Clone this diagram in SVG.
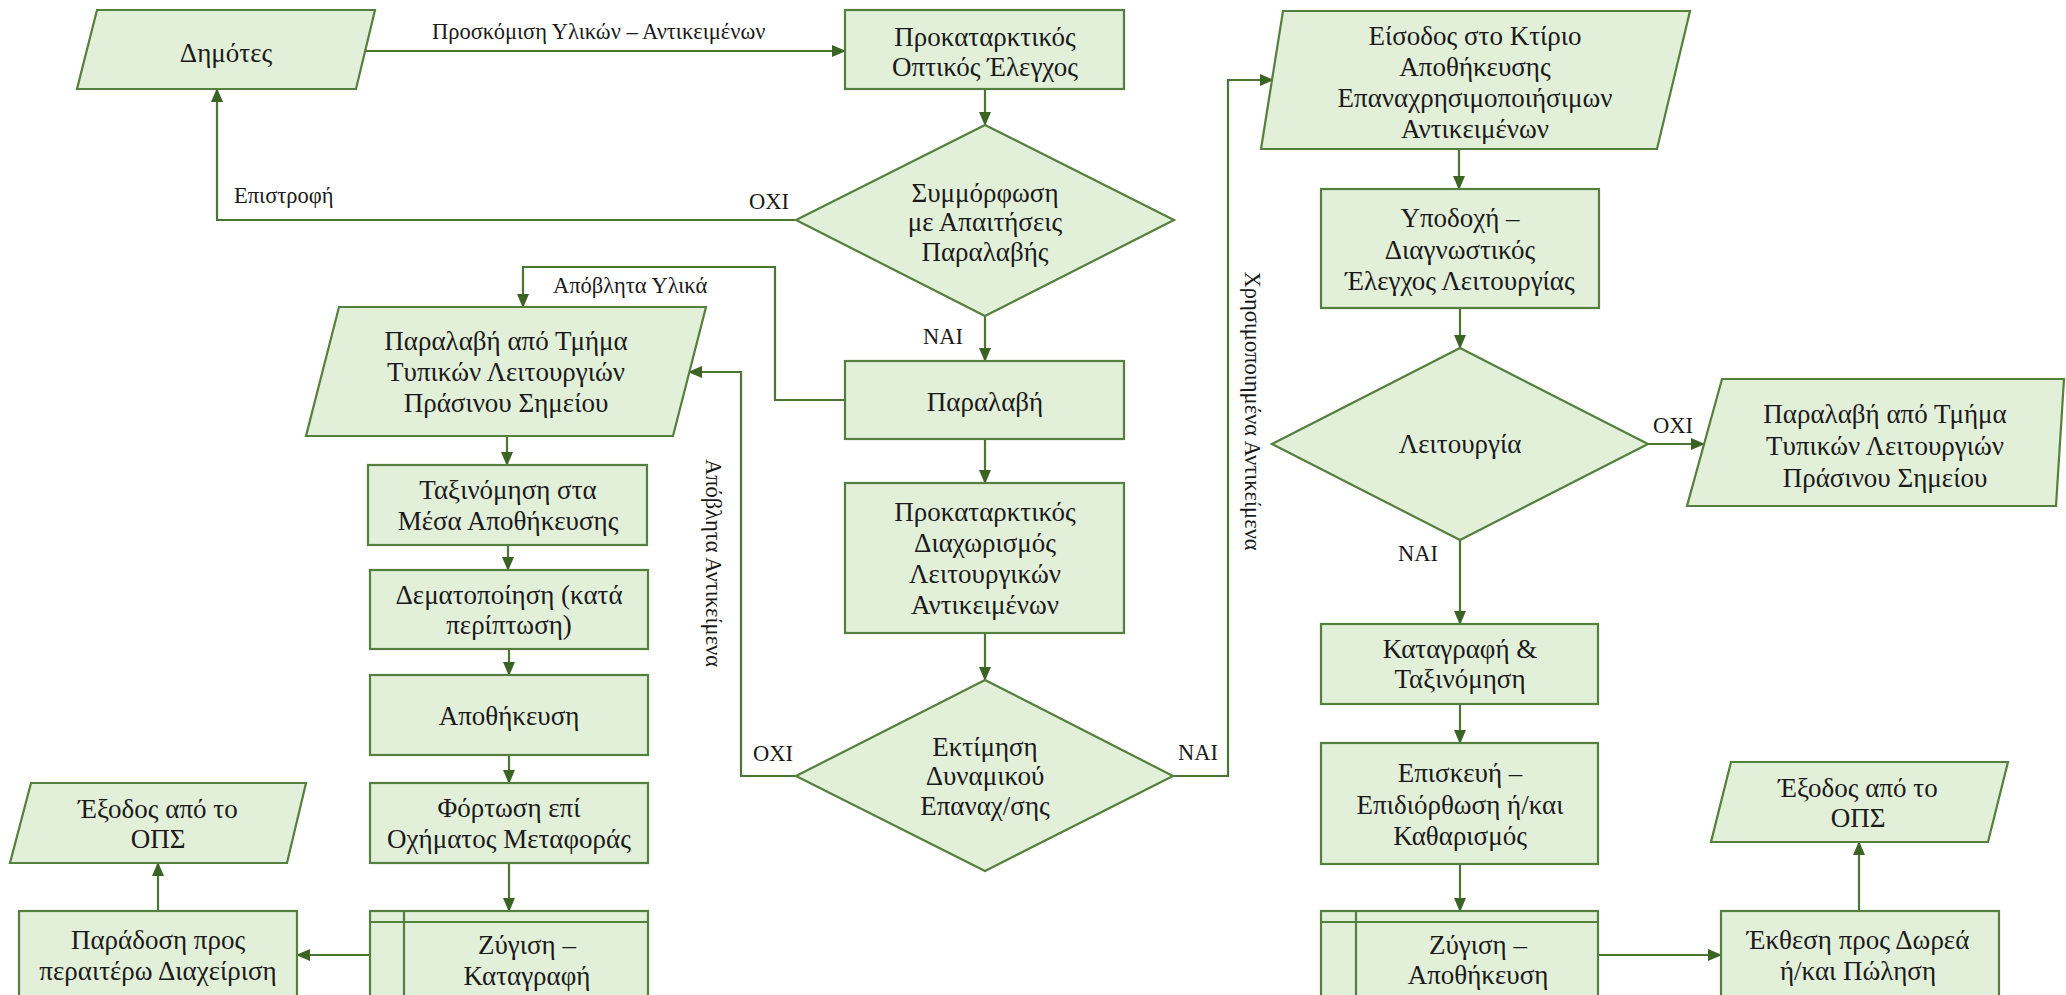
<svg xmlns="http://www.w3.org/2000/svg" width="2066" height="995" viewBox="0 0 2066 995">
<defs>
<marker id="ah" markerUnits="userSpaceOnUse" markerWidth="14" markerHeight="12" refX="13" refY="6" orient="auto">
<path d="M0,0 L14,6 L0,12 z" fill="#3b6324"/>
</marker>
<style>
.s{fill:#e2efd9;stroke:#557f3c;stroke-width:2.2}
.l{fill:none;stroke:#557f3c;stroke-width:2.2}
.c{fill:none;stroke:#4a7533;stroke-width:2.2;marker-end:url(#ah)}
.t{font-family:"Liberation Serif","Times New Roman",serif;font-size:27px;fill:#1a1a1a;text-anchor:middle;dominant-baseline:central}
.lb{font-family:"Liberation Serif","Times New Roman",serif;font-size:22.5px;fill:#1a1a1a;dominant-baseline:central}
.m{text-anchor:middle}
</style>
</defs>
<rect width="2066" height="995" fill="#ffffff"/>

<g id="connectors">
<path class="c" d="M366,51 H845"/>
<path class="c" d="M985,89 V125"/>
<path class="c" d="M796,220 H217 V89"/>
<path class="c" d="M985,316 V361"/>
<path class="c" d="M845,400 H775 V267 H523 V307"/>
<path class="c" d="M985,439 V483"/>
<path class="c" d="M985,633 V680"/>
<path class="c" d="M796,776 H741 V372 H689"/>
<path class="c" d="M1173,776 H1228 V80 H1273"/>
<path class="c" d="M507,436 V465"/>
<path class="c" d="M508,545 V570"/>
<path class="c" d="M509,649 V675"/>
<path class="c" d="M509,755 V783"/>
<path class="c" d="M509,863 V911"/>
<path class="c" d="M370,955 H297"/>
<path class="c" d="M158,911 V863"/>
<path class="c" d="M1459,149 V189"/>
<path class="c" d="M1460,308 V348"/>
<path class="c" d="M1648,444 H1704"/>
<path class="c" d="M1460,540 V624"/>
<path class="c" d="M1460,704 V743"/>
<path class="c" d="M1460,864 V911"/>
<path class="c" d="M1598,955 H1721"/>
<path class="c" d="M1859,911 V842"/>
<text class="lb" x="432" y="31">Προσκόμιση Υλικών – Αντικειμένων</text>
<text class="lb" x="234" y="195">Επιστροφή</text>
<text class="lb m" x="769" y="201">ΟΧΙ</text>
<text class="lb" x="553" y="285">Απόβλητα Υλικά</text>
<text class="lb m" x="943" y="336">ΝΑΙ</text>
<text class="lb m" x="773" y="753">ΟΧΙ</text>
<text class="lb m" x="1198" y="752">ΝΑΙ</text>
<text class="lb m" x="1673" y="425">ΟΧΙ</text>
<text class="lb m" x="1418" y="553">ΝΑΙ</text>
<text class="lb m" transform="translate(713,563) rotate(90)" x="0" y="0">Απόβλητα Αντικείμενα</text>
<text class="lb m" transform="translate(1252,411) rotate(90)" x="0" y="0">Χρησιμοποιημένα Αντικείμενα</text>
</g>

<g id="n-dimotes">
<polygon class="s" points="97,10 375,10 356,89 77,89"/>
<text class="t" x="226" y="53">Δημότες</text>
</g>

<g id="n-optikos">
<rect class="s" x="845" y="10" width="279" height="79"/>
<text class="t" x="985" y="37">Προκαταρκτικός</text>
<text class="t" x="985" y="67">Οπτικός Έλεγχος</text>
</g>

<g id="n-symmorfosi">
<polygon class="s" points="985,125 1174,220 985,316 796,220"/>
<text class="t" x="985" y="193">Συμμόρφωση</text>
<text class="t" x="985" y="222">με Απαιτήσεις</text>
<text class="t" x="985" y="252">Παραλαβής</text>
</g>

<g id="n-paralavi">
<rect class="s" x="845" y="361" width="279" height="78"/>
<text class="t" x="985" y="402">Παραλαβή</text>
</g>

<g id="n-diaxorismos">
<rect class="s" x="845" y="483" width="279" height="150"/>
<text class="t" x="985" y="512">Προκαταρκτικός</text>
<text class="t" x="985" y="543">Διαχωρισμός</text>
<text class="t" x="985" y="574">Λειτουργικών</text>
<text class="t" x="985" y="605">Αντικειμένων</text>
</g>

<g id="n-ektimisi">
<polygon class="s" points="985,680 1173,776 985,871 796,776"/>
<text class="t" x="985" y="747">Εκτίμηση</text>
<text class="t" x="985" y="776">Δυναμικού</text>
<text class="t" x="985" y="806">Επαναχ/σης</text>
</g>

<g id="n-paralavi-tmima-left">
<polygon class="s" points="339,307 706,307 673,436 306,436"/>
<text class="t" x="506" y="341">Παραλαβή από Τμήμα</text>
<text class="t" x="506" y="372">Τυπικών Λειτουργιών</text>
<text class="t" x="506" y="403">Πράσινου Σημείου</text>
</g>

<g id="n-taxinomisi">
<rect class="s" x="368" y="465" width="279" height="80"/>
<text class="t" x="508" y="490">Ταξινόμηση στα</text>
<text class="t" x="508" y="521">Μέσα Αποθήκευσης</text>
</g>

<g id="n-dematopoiisi">
<rect class="s" x="370" y="570" width="278" height="79"/>
<text class="t" x="509" y="595">Δεματοποίηση (κατά</text>
<text class="t" x="509" y="625">περίπτωση)</text>
</g>

<g id="n-apothikeusi">
<rect class="s" x="370" y="675" width="278" height="80"/>
<text class="t" x="509" y="716">Αποθήκευση</text>
</g>

<g id="n-fortosi">
<rect class="s" x="370" y="783" width="278" height="80"/>
<text class="t" x="509" y="808">Φόρτωση επί</text>
<text class="t" x="509" y="839">Οχήματος Μεταφοράς</text>
</g>

<g id="n-zygisi-katagrafi">
<rect class="s" x="370" y="911" width="278" height="100"/>
<path class="l" d="M370,922 H648 M404,911 V1000"/>
<text class="t" x="527" y="945">Ζύγιση –</text>
<text class="t" x="527" y="976">Καταγραφή</text>
</g>

<g id="n-paradosi">
<rect class="s" x="19" y="911" width="278" height="100"/>
<text class="t" x="158" y="940">Παράδοση προς</text>
<text class="t" x="158" y="971">περαιτέρω Διαχείριση</text>
</g>

<g id="n-exodos-left">
<polygon class="s" points="31,783 306,783 287,863 10,863"/>
<text class="t" x="158" y="809">Έξοδος από το</text>
<text class="t" x="158" y="839">ΟΠΣ</text>
</g>

<g id="n-eisodos">
<polygon class="s" points="1283,11 1690,11 1657,149 1261,149"/>
<text class="t" x="1475" y="36">Είσοδος στο Κτίριο</text>
<text class="t" x="1475" y="67">Αποθήκευσης</text>
<text class="t" x="1475" y="98">Επαναχρησιμοποιήσιμων</text>
<text class="t" x="1475" y="129">Αντικειμένων</text>
</g>

<g id="n-ypodoxi">
<rect class="s" x="1321" y="189" width="278" height="119"/>
<text class="t" x="1460" y="218">Υποδοχή –</text>
<text class="t" x="1460" y="250">Διαγνωστικός</text>
<text class="t" x="1460" y="281">Έλεγχος Λειτουργίας</text>
</g>

<g id="n-leitourgia">
<polygon class="s" points="1460,348 1648,444 1460,540 1272,444"/>
<text class="t" x="1460" y="444">Λειτουργία</text>
</g>

<g id="n-paralavi-tmima-right">
<polygon class="s" points="1722,379 2064,379 2056,506 1687,506"/>
<text class="t" x="1885" y="414">Παραλαβή από Τμήμα</text>
<text class="t" x="1885" y="446">Τυπικών Λειτουργιών</text>
<text class="t" x="1885" y="478">Πράσινου Σημείου</text>
</g>

<g id="n-katagrafi">
<rect class="s" x="1321" y="624" width="277" height="80"/>
<text class="t" x="1460" y="649">Καταγραφή &amp;</text>
<text class="t" x="1460" y="679">Ταξινόμηση</text>
</g>

<g id="n-episkeui">
<rect class="s" x="1321" y="743" width="277" height="121"/>
<text class="t" x="1460" y="773">Επισκευή –</text>
<text class="t" x="1460" y="805">Επιδιόρθωση ή/και</text>
<text class="t" x="1460" y="836">Καθαρισμός</text>
</g>

<g id="n-zygisi-apothikeusi">
<rect class="s" x="1321" y="911" width="277" height="100"/>
<path class="l" d="M1321,922 H1598 M1356,911 V1000"/>
<text class="t" x="1478" y="945">Ζύγιση –</text>
<text class="t" x="1478" y="975">Αποθήκευση</text>
</g>

<g id="n-ekthesi">
<rect class="s" x="1721" y="911" width="278" height="100"/>
<text class="t" x="1858" y="940">Έκθεση προς Δωρεά</text>
<text class="t" x="1858" y="971">ή/και Πώληση</text>
</g>

<g id="n-exodos-right">
<polygon class="s" points="1731,762 2008,762 1988,842 1711,842"/>
<text class="t" x="1858" y="788">Έξοδος από το</text>
<text class="t" x="1858" y="818">ΟΠΣ</text>
</g>
</svg>
